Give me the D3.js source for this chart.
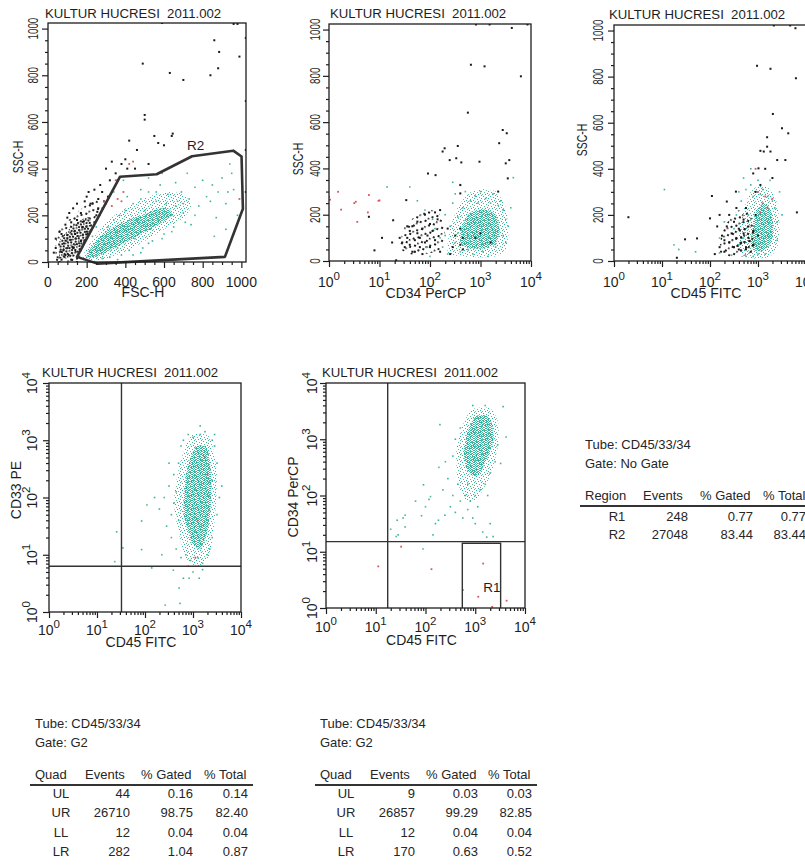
<!DOCTYPE html>
<html>
<head>
<meta charset="utf-8">
<script src="https://cdn.jsdelivr.net/npm/d3@7"></script>
<style>
  body { margin: 0; background: #fff; }
  svg { display: block; font-family: "Liberation Sans", Arial, Helvetica, sans-serif; }
</style>
</head>
<body>
<svg id="chart" width="805" height="865"></svg>
<script>
// ---- data ----
const plotTitle = "KULTUR HUCRESI  2011.002";

// log channels are stored as decades (2.5 -> 10^2.5)
// panel 1: FSC-H / SSC-H (linear 0..1024)
const gateR2 = [[150,22],[372,365],[562,376],[745,453],[958,477],[1001,452],[1008,228],[915,22],[255,-7]];
const gateR2Label = [719, 480];
const tealOuter1 = [[175,10],[205,65],[260,130],[330,190],[420,240],[520,280],[620,300],[700,290],[740,240],[700,190],[600,140],[500,90],[400,45],[300,15],[220,5]];
const tealInner1 = [[200,30],[240,80],[300,130],[390,170],[480,200],[560,225],[620,230],[640,200],[570,160],[480,120],[380,75],[300,40],[240,20]];
const blackOuter1 = [[45,0],[40,80],[60,140],[120,190],[190,240],[250,265],[265,230],[225,150],[190,80],[160,15],[110,0]];
const blackInner1 = [[60,20],[60,90],[110,140],[170,180],[215,190],[225,140],[190,80],[150,30],[100,15]];
const teal1 = [[200,20],[220,50],[250,30],[260,90],[280,60],[300,110],[310,150],[320,20],[340,180],[350,130],[360,60],[370,200],[380,30],[400,220],[410,150],[420,50],[440,250],[450,100],[460,180],[480,270],[490,60],[500,220],[520,300],[530,140],[540,90],[560,260],[570,180],[580,330],[600,120],[610,250],[620,290],[640,200],[650,150],[660,340],[670,260],[690,300],[700,210],[720,380],[730,270],[740,160],[760,320],[780,240],[800,350],[820,280],[850,330],[870,190],[880,300],[900,360],[920,250],[950,380],[960,310],[980,200],[340,300],[390,350],[450,370],[520,360],[590,380],[410,280],[300,250],[270,200],[250,150],[230,110],[600,200],[660,240],[700,250],[560,300],[480,310],[760,200],[840,260],[930,300],[640,130],[710,170],[520,80],[590,100],[440,30],[330,70],[280,15],[360,10],[480,40],[940,420],[960,120],[920,140],[860,110]];
const black1 = [[40,60],[70,120],[100,190],[120,170],[130,230],[150,250],[170,210],[190,260],[200,280],[210,300],[230,250],[240,310],[260,270],[270,330],[280,300],[300,400],[320,350],[330,430],[350,380],[360,350],[380,420],[400,440],[410,400],[420,520],[450,400],[460,480],[500,610],[500,630],[520,420],[550,540],[570,510],[600,500],[640,540],[645,550],[490,850],[630,810],[700,780],[840,800],[860,950],[880,830],[885,900],[990,880],[980,1020],[960,1020],[590,1024],[1023,960],[1023,690],[1023,300],[1023,480],[60,0],[70,10],[90,160],[40,100],[110,210],[150,180],[220,250],[50,20],[30,40],[80,50],[130,60],[170,90],[200,130],[240,170],[250,200],[180,150],[260,230],[290,260],[310,280],[255,215],[140,120],[100,100],[60,130],[90,30],[150,0],[120,10]];
const red1 = [[290,260],[300,250],[350,350],[360,270],[380,260],[420,420],[280,230],[990,270],[330,240],[390,300],[440,430]];

// panel 2: CD34 PerCP (log) / SSC-H
const tealOuter2 = [[2.35,40],[2.4,140],[2.55,230],[2.75,290],[3.0,310],[3.3,300],[3.5,230],[3.55,120],[3.5,50],[3.3,20],[3.0,15],[2.6,20]];
const tealInner2 = [[2.6,80],[2.65,160],[2.8,210],[3.05,225],[3.3,200],[3.38,130],[3.3,75],[3.1,55],[2.8,55]];
const blackOuter2 = [[1.4,60],[1.5,150],[1.7,190],[2.0,220],[2.2,200],[2.3,120],[2.2,50],[1.9,30],[1.6,30]];
const teal2 = [[1.15,320],[1.9,220],[2.05,180],[2.1,140],[2.2,100],[2.25,60],[2.3,200],[2.35,30],[2.4,150],[2.45,250],[2.5,80],[2.5,290],[2.55,190],[2.6,40],[2.6,330],[2.65,230],[2.7,300],[2.75,50],[2.8,260],[2.85,30],[2.9,280],[2.95,250],[3.0,300],[3.05,40],[3.1,270],[3.2,250],[3.25,290],[3.3,60],[3.35,240],[3.4,260],[3.45,110],[3.5,180],[3.5,80],[3.55,150],[3.6,230],[3.65,360],[2.95,180],[3.25,110],[2.75,110],[2.3,110],[1.6,320],[1.95,60],[2.45,340],[2.55,120],[3.15,20],[3.45,220],[2.0,20],[1.75,260]];
const black2 = [[1.45,80],[1.5,60],[1.55,100],[1.6,130],[1.6,70],[1.65,150],[1.7,90],[1.7,40],[1.75,120],[1.75,170],[1.8,60],[1.8,100],[1.85,140],[1.9,80],[1.9,200],[1.95,110],[2.0,160],[2.0,60],[2.05,130],[2.1,90],[2.1,210],[2.15,180],[2.2,220],[1.55,150],[1.4,100],[1.65,40],[2.2,40],[2.4,30],[2.5,110],[2.6,70],[2.65,50],[2.9,100],[3.0,120],[2.6,140],[2.65,100],[0.79,191],[0.9,46],[1.27,176],[1.33,3],[1.53,263],[1.96,378],[2.29,487],[2.52,444],[2.55,497],[2.62,426],[2.39,436],[2.6,292],[2.6,328],[2.75,641],[2.81,848],[3.08,841],[2.98,429],[3.37,509],[3.44,566],[3.52,552],[3.54,357],[3.5,422],[3.57,436],[3.8,798],[3.62,1007],[3.93,1022],[2.91,1022],[3.18,1022],[2.11,371],[2.25,473],[1.25,80],[1.85,30],[2.35,140],[2.45,60],[3.2,80],[3.35,300],[1.05,100]];
const red2 = [[0,277],[0.02,265],[0.18,299],[0.24,222],[0.53,256],[0.56,169],[0.79,285],[0.77,210],[0.98,260],[1.0,262],[0.5,250]];

// panel 3: CD45 FITC (log) / SSC-H
const tealOuter3 = [[2.65,30],[2.6,120],[2.7,220],[2.85,300],[3.05,330],[3.25,310],[3.4,250],[3.45,150],[3.4,60],[3.25,20],[2.95,10]];
const tealInner3 = [[2.85,70],[2.9,160],[3.0,230],[3.15,250],[3.28,210],[3.32,130],[3.25,70],[3.1,45],[2.95,45]];
const blackOuter3 = [[2.2,40],[2.25,120],[2.4,180],[2.6,220],[2.85,200],[2.95,120],[2.9,50],[2.7,20],[2.4,20]];
const blackInner3 = [[2.45,60],[2.5,120],[2.65,150],[2.85,130],[2.9,70],[2.7,40]];
const teal3 = [[1.05,310],[1.25,70],[1.35,50],[1.7,40],[2.2,100],[2.3,170],[2.5,140],[2.6,300],[2.65,260],[2.7,360],[2.75,310],[2.8,200],[2.85,330],[2.9,280],[2.95,300],[3.0,350],[3.05,290],[3.1,310],[3.2,280],[3.3,260],[3.35,230],[3.4,170],[3.45,300],[2.9,20],[3.0,30],[2.7,100],[2.6,70],[3.4,90],[2.75,20],[3.15,30],[2.2,35],[2.45,25],[2.55,200],[3.5,200],[3.25,350],[2.85,400]];
const black3 = [[0.3,190],[1.48,94],[1.73,98],[1.31,14],[2.04,282],[2.0,185],[2.35,258],[2.54,301],[2.98,847],[3.26,834],[3.79,793],[3.31,638],[3.5,576],[3.63,554],[3.19,537],[3.05,478],[3.12,475],[3.26,475],[3.4,438],[3.57,438],[3.19,496],[3.01,402],[3.81,211],[3.67,1022],[3.33,1022],[3.78,1010],[2.2,60],[2.25,110],[2.3,40],[2.35,150],[2.4,80],[2.45,120],[2.5,60],[2.5,170],[2.55,100],[2.6,140],[2.6,50],[2.65,80],[2.7,180],[2.7,120],[2.75,60],[2.8,100],[2.8,150],[2.85,40],[2.9,130],[2.9,70],[2.95,200],[3.0,110],[2.4,200],[2.55,230],[2.75,230],[2.15,150],[2.1,30],[2.95,300],[3.05,330],[2.2,200],[2.3,90],[3.15,400],[2.9,380],[3.3,360]];
const red3 = [[3.0,300],[3.05,210],[3.1,250],[3.2,230],[3.3,270],[2.95,400],[3.15,280]];

// panel 4: CD45 FITC (log) / CD33 PE (log)
const quad4 = [1.51, 0.8];
const tealOuter4 = [[3.0,3.1],[3.35,3.05],[3.5,2.4],[3.45,1.6],[3.35,1.0],[3.1,0.8],[2.85,0.95],[2.7,1.4],[2.6,1.9],[2.7,2.5],[2.85,2.9]];
const tealInner4 = [[3.08,2.9],[3.3,2.85],[3.38,2.35],[3.36,1.75],[3.28,1.35],[3.15,1.1],[2.98,1.2],[2.9,1.4],[2.8,1.75],[2.85,2.35],[2.95,2.7]];
const teal4 = [[1.41,1.4],[1.37,0.88],[1.54,1.12],[1.93,1.59],[2.04,1.87],[1.93,1.09],[2.14,0.77],[2.42,0.12],[2.73,0.15],[2.8,0.59],[2.92,0.59],[3.13,0.59],[3.2,0.74],[2.59,0.73],[2.71,0.42],[2.3,1.8],[2.4,2.0],[2.45,1.5],[2.5,2.2],[2.55,1.3],[2.6,1.9],[2.6,2.4],[2.65,1.1],[2.7,2.6],[2.7,1.6],[2.75,2.9],[2.75,0.95],[2.8,3.0],[2.9,3.1],[2.95,0.9],[3.0,3.05],[3.1,0.95],[3.15,3.1],[3.25,3.15],[3.3,1.0],[3.4,2.3],[3.45,2.9],[3.5,1.7],[3.45,3.1],[3.55,2.0],[3.4,1.3],[3.6,2.2],[2.2,2.0],[2.35,1.0],[2.5,2.6],[2.9,0.8],[3.2,0.85],[3.4,3.0],[3.35,1.1],[2.65,2.1],[2.85,1.0],[3.5,2.6],[3.0,0.7],[2.55,1.7],[3.15,3.25]];
const red4 = [[3.25,2.7],[3.05,0.95],[3.1,1.6],[3.3,2.4]];

// panel 5: CD45 FITC (log) / CD34 PerCP (log)
const quad5 = [1.24, 1.18];
const regionR1 = [2.74, 3.51, 0, 1.15];
const tealOuter5 = [[3.0,3.55],[3.3,3.55],[3.46,3.3],[3.46,2.9],[3.32,2.4],[3.12,2.05],[2.95,1.9],[2.77,1.95],[2.64,2.3],[2.62,2.8],[2.73,3.2],[2.86,3.45]];
const tealInner5 = [[3.02,3.42],[3.24,3.42],[3.34,3.26],[3.37,3.0],[3.28,2.75],[3.18,2.55],[3.08,2.38],[2.95,2.35],[2.82,2.48],[2.77,2.75],[2.82,3.05],[2.91,3.28]];
const teal5 = [[2.5,1.8],[2.55,2.0],[2.6,1.7],[2.65,2.2],[2.7,1.9],[2.75,1.6],[2.8,2.0],[2.85,1.75],[2.9,1.9],[2.95,1.6],[3.0,2.0],[3.05,1.8],[3.1,2.1],[3.2,2.2],[3.25,2.0],[3.3,2.4],[3.4,2.6],[3.45,2.9],[2.45,2.3],[2.4,2.6],[2.55,2.7],[2.6,3.0],[2.7,3.2],[2.35,2.1],[2.2,1.5],[2.0,1.8],[1.8,1.9],[2.15,1.3],[1.95,1.05],[1.55,1.6],[1.45,1.3],[1.3,1.4],[2.29,3.26],[3.56,3.58],[3.62,3.04],[3.51,2.57],[3.3,1.5],[3.15,1.35],[3.23,1.26],[1.96,2.19],[2.1,1.98],[2.39,1.65],[2.26,1.56],[1.59,1.65],[1.59,1.44],[1.43,1.56],[1.41,1.27],[1.92,1.64],[2.07,1.93],[2.27,2.5],[3.36,1.27],[2.95,3.6],[3.2,3.6],[2.85,2.2],[3.0,1.5]];
const red5 = [[1.05,0.74],[2.12,0.69],[3.16,0.79],[3.06,0.2],[2.75,0.32],[3.34,0.02],[3.63,0.13],[1.51,1.09]];

// statistics tables
const tubeName = "Tube: CD45/33/34";
const regionHeads = ["Region", "Events", "% Gated", "% Total"];
const regionNames = ["R1", "R2"];
const regionEvents = [248, 27048];
const regionGated = [0.77, 83.44];
const regionTotal = [0.77, 83.44];
const quadHeads = ["Quad", "Events", "% Gated", "% Total"];
const quadNames = ["UL", "UR", "LL", "LR"];
const quadEventsA = [44, 26710, 12, 282];
const quadGatedA = [0.16, 98.75, 0.04, 1.04];
const quadTotalA = [0.14, 82.40, 0.04, 0.87];
const quadEventsB = [9, 26857, 12, 170];
const quadGatedB = [0.03, 99.29, 0.04, 0.63];
const quadTotalB = [0.03, 82.85, 0.04, 0.52];

// ---- drawing ----
const svg = d3.select("#chart");
const ink = "#1e1e1e";
const tealColors = ["#2fb2aa", "#55bb8c", "#3cb39f"];

const defs = svg.append("defs");
// density textures for the packed part of each cloud
function pattern(id, size, cells, colors, turn) {
  const p = defs.append("pattern").attr("id", id)
    .attr("patternUnits", "userSpaceOnUse").attr("width", size).attr("height", size);
  if (turn) p.attr("patternTransform", `rotate(${turn})`);
  cells.forEach((c, i) => p.append("rect").attr("x", c[0]).attr("y", c[1])
    .attr("width", c[2]).attr("height", c[2]).attr("fill", colors[i % colors.length]));
}
const tealShades = ["#27aea6", "#4cb896", "#38b3a2", "#5abd86", "#31b1a6", "#6cc2a0"];
pattern("tealDense", 6, [[0,0,1],[2,0,1],[5,0,1],[1,1,1],[3,1,1],[4,1,1],[0,2,1],[2,2,1],[5,2,1],[1,3,1],[4,3,1],[0,4,1],[2,4,1],[3,4,1],[5,4,1],[1,5,1],[4,5,1],[3,3,1]], tealShades);
pattern("tealSparse", 7, [[0,0,1],[3,1,1],[5,2,1],[1,3,1],[4,4,1],[6,5,1],[2,5,1],[5,6,1]], tealShades);
pattern("blackDense", 6, [[0,0,2],[3,1,2],[1,3,1.5],[4,4,2]], ["#1b1b1b", "#2a2a2a"], 17);
pattern("blackSparse", 9, [[0,0,2],[5,3,2],[2,6,1.6]], ["#1b1b1b", "#2a2a2a"], 23);

const panels = [
  { box: [48, 23, 246, 262], xLog: false, yLog: false, xLabel: "FSC-H", yLabel: "SSC-H",
    titleX: 45, titleY: 18, yLabX: 23, yLabY: 157, yTickX: 38, xTickDy: 25, xLabDy: 35,
    clouds: [["blackSparse", blackOuter1], ["blackDense", blackInner1], ["tealSparse", tealOuter1], ["tealDense", tealInner1]],
    black: black1, teal: teal1, red: red1 },
  { box: [329, 24, 531, 261], xLog: true, yLog: false, xLabel: "CD34 PerCP", yLabel: "SSC-H",
    titleX: 330, titleY: 18, yLabX: 303, yLabY: 159, yTickX: 320, xTickDy: 26, xLabDy: 37,
    clouds: [["tealSparse", tealOuter2], ["tealDense", tealInner2], ["blackSparse", blackOuter2]],
    black: black2, teal: teal2, red: red2 },
  { box: [614, 25, 806, 261], xLog: true, yLog: false, xLabel: "CD45 FITC", yLabel: "SSC-H",
    titleX: 609, titleY: 19, yLabX: 587, yLabY: 140, yTickX: 603, xTickDy: 26, xLabDy: 37,
    clouds: [["tealSparse", tealOuter3], ["tealDense", tealInner3], ["blackSparse", blackOuter3], ["blackSparse", blackInner3]],
    black: black3, teal: teal3, red: red3 },
  { box: [49, 383, 241, 612], xLog: true, yLog: true, xLabel: "CD45 FITC", yLabel: "CD33 PE",
    titleX: 42, titleY: 377, yLabX: 21, yLabY: 490, yTickX: 37, xTickDy: 23, xLabDy: 35,
    clouds: [["tealSparse", tealOuter4], ["tealDense", tealInner4]],
    black: [], teal: teal4, red: red4, quad: quad4 },
  { box: [326, 383, 525, 608], xLog: true, yLog: true, xLabel: "CD45 FITC", yLabel: "CD34 PerCP",
    titleX: 322, titleY: 377, yLabX: 298, yLabY: 497, yTickX: 317, xTickDy: 24, xLabDy: 37,
    clouds: [["tealSparse", tealOuter5], ["tealDense", tealInner5]],
    black: [], teal: teal5, red: red5, quad: quad5, rect: regionR1 }
];

function drawPanel(p, idx) {
  const [x0, y0, x1, y1] = p.box;
  const x = p.xLog ? d3.scaleLog().domain([1, 1e4]).range([x0, x1]) : d3.scaleLinear().domain([0, 1024]).range([x0, x1]);
  const y = p.yLog ? d3.scaleLog().domain([1, 1e4]).range([y1, y0]) : d3.scaleLinear().domain([0, 1024]).range([y1, y0]);
  const fx = v => p.xLog ? x(Math.pow(10, v)) : x(v);
  const fy = v => p.yLog ? y(Math.pow(10, v)) : y(v);

  const g = svg.append("g");
  const clipId = "clip" + idx;
  defs.append("clipPath").attr("id", clipId).append("rect")
    .attr("x", x0).attr("y", y0).attr("width", x1 - x0).attr("height", y1 - y0);
  const plot = g.append("g").attr("clip-path", `url(#${clipId})`);

  const blob = d3.line().x(d => fx(d[0])).y(d => fy(d[1])).curve(d3.curveCardinalClosed.tension(0.3));
  p.clouds.forEach(([fill, pts]) => plot.append("path").attr("d", blob(pts)).attr("fill", `url(#${fill})`));

  plot.selectAll(".teal").data(p.teal).enter().append("rect")
    .attr("x", d => fx(d[0]) - 0.8).attr("y", d => fy(d[1]) - 0.8)
    .attr("width", 1.6).attr("height", 1.6).attr("fill", (d, i) => tealColors[i % 3]);
  plot.selectAll(".black").data(p.black).enter().append("rect")
    .attr("x", d => fx(d[0]) - 1).attr("y", d => fy(d[1]) - 1)
    .attr("width", 2).attr("height", 2).attr("fill", "#1a1a1a");
  plot.selectAll(".red").data(p.red).enter().append("rect")
    .attr("x", d => fx(d[0]) - 0.9).attr("y", d => fy(d[1]) - 0.9)
    .attr("width", 1.8).attr("height", 1.8).attr("fill", "#d8585a");

  if (idx === 0) {
    g.append("path").attr("d", d3.line().x(d => fx(d[0])).y(d => fy(d[1]))(gateR2) + "Z")
      .attr("fill", "none").attr("stroke", "#333").attr("stroke-width", 2.6).attr("stroke-linejoin", "round");
    g.append("text").attr("x", fx(gateR2Label[0])).attr("y", fy(gateR2Label[1]))
      .attr("font-size", 13.5).attr("fill", ink).text("R2");
  }
  if (p.quad) {
    g.append("line").attr("x1", fx(p.quad[0])).attr("x2", fx(p.quad[0])).attr("y1", y0).attr("y2", y1)
      .attr("stroke", "#333").attr("stroke-width", 1.4);
    g.append("line").attr("x1", x0).attr("x2", x1).attr("y1", fy(p.quad[1])).attr("y2", fy(p.quad[1]))
      .attr("stroke", "#333").attr("stroke-width", 1.4);
  }
  if (p.rect) {
    const [a, b, lo, hi] = p.rect;
    g.append("path")
      .attr("d", `M${fx(a)},${fy(lo)}V${fy(hi)}H${fx(b)}V${fy(lo)}`)
      .attr("fill", "none").attr("stroke", "#333").attr("stroke-width", 1.4);
    g.append("text").attr("x", fx(a) + 21).attr("y", fy(lo) - 16)
      .attr("font-size", 13.5).attr("fill", ink).text("R1");
  }

  g.append("rect").attr("x", x0).attr("y", y0).attr("width", x1 - x0).attr("height", y1 - y0)
    .attr("fill", "none").attr("stroke", ink).attr("stroke-width", 1.3);

  // ticks
  const isDecade = d => Math.abs(Math.log10(d) % 1) < 1e-9;
  const xTicks = p.xLog ? x.ticks() : d3.range(0, 1001, 50);
  const yTicks = p.yLog ? y.ticks() : d3.range(0, 1001, 50);
  const xMajor = d => p.xLog ? isDecade(d) : d % 200 === 0;
  const yMajor = d => p.yLog ? isDecade(d) : d % 200 === 0;

  const gx = g.append("g").attr("transform", `translate(0,${y1})`)
    .call(d3.axisBottom(x).tickValues(xTicks).tickSize(3).tickFormat(""));
  gx.select(".domain").remove();
  gx.selectAll(".tick line").attr("stroke", ink).attr("stroke-width", 1.2).filter(xMajor).attr("y2", 6);

  const gy = g.append("g").attr("transform", `translate(${x0},0)`)
    .call(d3.axisLeft(y).tickValues(yTicks).tickSize(3).tickFormat(""));
  gy.select(".domain").remove();
  gy.selectAll(".tick line").attr("stroke", ink).attr("stroke-width", 1.2).filter(yMajor).attr("x2", -6);

  // tick labels
  const xLabVals = p.xLog ? [1, 10, 100, 1000, 10000] : [0, 200, 400, 600, 800, 1000];
  xLabVals.forEach(v => {
    const t = g.append("text").attr("x", x(v)).attr("y", y1 + p.xTickDy)
      .attr("text-anchor", "middle").attr("font-size", 14).attr("fill", ink);
    if (p.xLog) {
      t.append("tspan").text("10");
      t.append("tspan").attr("dy", -7).attr("font-size", 11.5).text(Math.round(Math.log10(v)));
    } else t.text(v);
  });
  const yLabVals = p.yLog ? [1, 10, 100, 1000, 10000] : [0, 200, 400, 600, 800, 1000];
  yLabVals.forEach(v => {
    const t = g.append("text")
      .attr("transform", `translate(${p.yTickX},${y(v)}) rotate(-90)` + (p.yLog ? "" : " scale(0.68,1)"))
      .attr("text-anchor", "middle").attr("font-size", 14.5).attr("fill", ink);
    if (p.yLog) {
      t.attr("font-size", 14);
      t.append("tspan").text("10");
      t.append("tspan").attr("dy", -7).attr("font-size", 11.5).text(Math.round(Math.log10(v)));
    } else t.text(v);
  });

  // axis titles and plot title
  g.append("text").attr("x", (x0 + x1) / 2 - 4).attr("y", y1 + p.xLabDy)
    .attr("text-anchor", "middle").attr("font-size", 14).attr("fill", ink).text(p.xLabel);
  g.append("text")
    .attr("transform", `translate(${p.yLabX},${p.yLabY}) rotate(-90)` + (p.yLog ? "" : " scale(0.72,1)"))
    .attr("text-anchor", "middle").attr("font-size", p.yLog ? 14 : 14.5).attr("fill", ink).text(p.yLabel);
  g.append("text").attr("x", p.titleX).attr("y", p.titleY)
    .attr("xml:space", "preserve").style("white-space", "pre")
    .attr("font-size", 13.2).attr("fill", ink).text(plotTitle);
}

panels.forEach(drawPanel);

// ---- tables ----
function drawTable(t) {
  const g = svg.append("g").attr("font-size", 13).attr("fill", "#262626");
  g.append("text").attr("x", t.left).attr("y", t.top).text(tubeName);
  g.append("text").attr("x", t.left).attr("y", t.top + 19).text(t.gate);
  t.heads.forEach((h, i) => g.append("text").attr("x", t.headX[i]).attr("y", t.headY)
    .attr("xml:space", "preserve").style("white-space", "pre").text(h));
  g.append("line").attr("x1", t.line[0]).attr("x2", t.line[1]).attr("y1", t.headY + 6).attr("y2", t.headY + 6)
    .attr("stroke", "#333").attr("stroke-width", 2);
  t.names.forEach((n, r) => {
    const yy = t.rowY[r];
    g.append("text").attr("x", t.colX[0]).attr("y", yy).attr("text-anchor", "middle").text(n);
    g.append("text").attr("x", t.colX[1]).attr("y", yy).attr("text-anchor", "end").text(t.events[r]);
    g.append("text").attr("x", t.colX[2]).attr("y", yy).attr("text-anchor", "end").text(t.gated[r].toFixed(2));
    g.append("text").attr("x", t.colX[3]).attr("y", yy).attr("text-anchor", "end").text(t.total[r].toFixed(2));
  });
}

drawTable({ left: 585, top: 449, gate: "Gate: No Gate", heads: regionHeads, headX: [585, 643, 700, 763], headY: 500,
  line: [580, 805], names: regionNames, rowY: [521, 539], colX: [617, 688, 753, 806],
  events: regionEvents, gated: regionGated, total: regionTotal });
drawTable({ left: 35, top: 728, gate: "Gate: G2", heads: quadHeads, headX: [35, 85, 141, 204], headY: 779,
  line: [30, 253], names: quadNames, rowY: [798, 817, 837, 856], colX: [61, 130, 193, 248],
  events: quadEventsA, gated: quadGatedA, total: quadTotalA });
drawTable({ left: 320, top: 728, gate: "Gate: G2", heads: quadHeads, headX: [320, 370, 426, 488], headY: 779,
  line: [315, 537], names: quadNames, rowY: [798, 817, 837, 856], colX: [346, 415, 478, 532],
  events: quadEventsB, gated: quadGatedB, total: quadTotalB });
</script>
</body>
</html>
